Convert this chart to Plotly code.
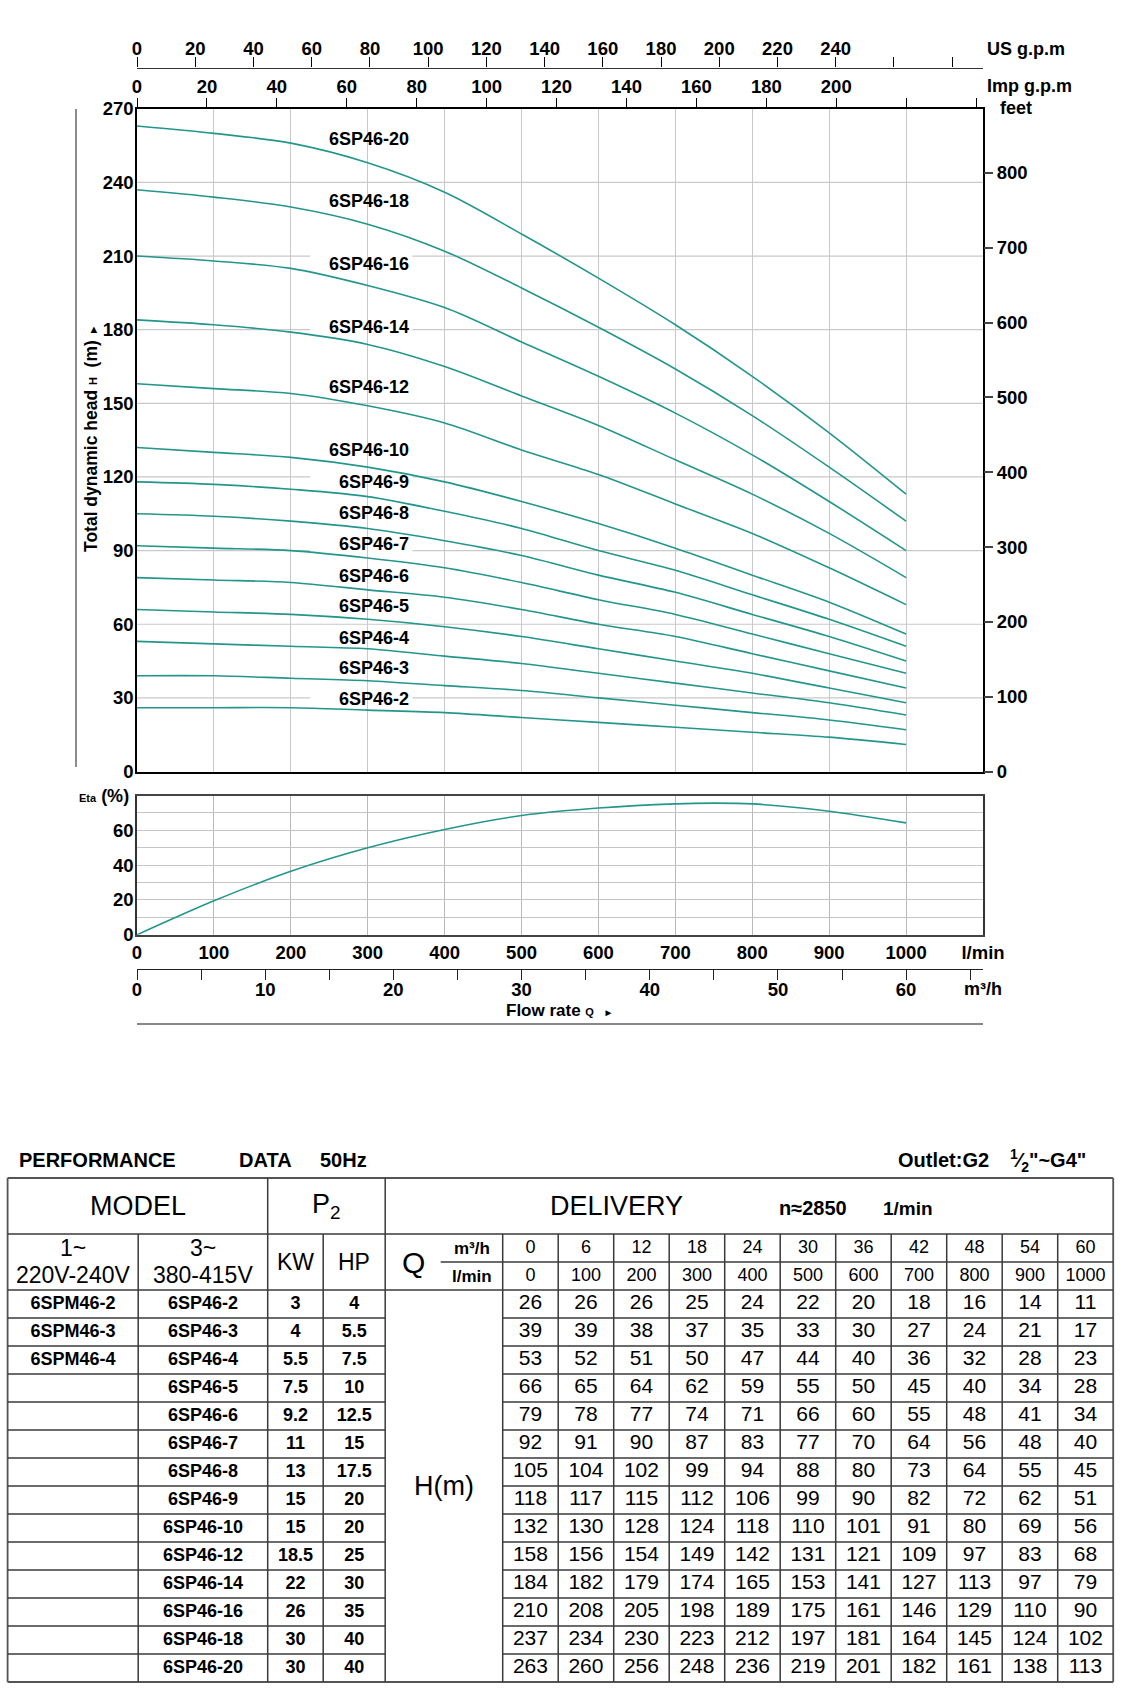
import plotly.graph_objects as go

# ---------------- data ----------------
flow_lmin = [0, 100, 200, 300, 400, 500, 600, 700, 800, 900, 1000]
flow_m3h = [0, 6, 12, 18, 24, 30, 36, 42, 48, 54, 60]

models_1ph = ["6SPM46-2", "6SPM46-3", "6SPM46-4", "", "", "", "", "", "", "", "", "", "", ""]
models_3ph = ["6SP46-2", "6SP46-3", "6SP46-4", "6SP46-5", "6SP46-6", "6SP46-7", "6SP46-8",
              "6SP46-9", "6SP46-10", "6SP46-12", "6SP46-14", "6SP46-16", "6SP46-18", "6SP46-20"]
power_kw = [3, 4, 5.5, 7.5, 9.2, 11, 13, 15, 15, 18.5, 22, 26, 30, 30]
power_hp = [4, 5.5, 7.5, 10, 12.5, 15, 17.5, 20, 20, 25, 30, 35, 40, 40]

head_6sp46_2 = [26, 26, 26, 25, 24, 22, 20, 18, 16, 14, 11]
head_6sp46_3 = [39, 39, 38, 37, 35, 33, 30, 27, 24, 21, 17]
head_6sp46_4 = [53, 52, 51, 50, 47, 44, 40, 36, 32, 28, 23]
head_6sp46_5 = [66, 65, 64, 62, 59, 55, 50, 45, 40, 34, 28]
head_6sp46_6 = [79, 78, 77, 74, 71, 66, 60, 55, 48, 41, 34]
head_6sp46_7 = [92, 91, 90, 87, 83, 77, 70, 64, 56, 48, 40]
head_6sp46_8 = [105, 104, 102, 99, 94, 88, 80, 73, 64, 55, 45]
head_6sp46_9 = [118, 117, 115, 112, 106, 99, 90, 82, 72, 62, 51]
head_6sp46_10 = [132, 130, 128, 124, 118, 110, 101, 91, 80, 69, 56]
head_6sp46_12 = [158, 156, 154, 149, 142, 131, 121, 109, 97, 83, 68]
head_6sp46_14 = [184, 182, 179, 174, 165, 153, 141, 127, 113, 97, 79]
head_6sp46_16 = [210, 208, 205, 198, 189, 175, 161, 146, 129, 110, 90]
head_6sp46_18 = [237, 234, 230, 223, 212, 197, 181, 164, 145, 124, 102]
head_6sp46_20 = [263, 260, 256, 248, 236, 219, 201, 182, 161, 138, 113]
head_table = [head_6sp46_2, head_6sp46_3, head_6sp46_4, head_6sp46_5, head_6sp46_6,
              head_6sp46_7, head_6sp46_8, head_6sp46_9, head_6sp46_10, head_6sp46_12,
              head_6sp46_14, head_6sp46_16, head_6sp46_18, head_6sp46_20]

eta_flow_lmin = [0, 100, 200, 300, 400, 500, 600, 700, 750, 800, 900, 1000]
eta_percent = [0, 19.5, 36.5, 50, 60.5, 68.5, 72.8, 75.2, 75.6, 75.2, 71, 64.3]

# curve label anchor heights (m) for each model, same order as models_3ph
label_head = [29.7, 42.1, 54.5, 67.4, 79.8, 92.7, 105.5, 117.9, 130.8, 156.5, 180.9, 206.6, 232.3, 257.6]

head_ticks = [0, 30, 60, 90, 120, 150, 180, 210, 240, 270]
feet_ticks = [0, 100, 200, 300, 400, 500, 600, 700, 800]
us_gpm_ticks = [0, 20, 40, 60, 80, 100, 120, 140, 160, 180, 200, 220, 240, 260, 280]
us_gpm_labels = ["0", "20", "40", "60", "80", "100", "120", "140", "160", "180", "200", "220", "240", "", ""]
imp_gpm_ticks = [0, 20, 40, 60, 80, 100, 120, 140, 160, 180, 200, 220, 240]
imp_gpm_labels = ["0", "20", "40", "60", "80", "100", "120", "140", "160", "180", "200", "", ""]
lmin_ticks = [0, 100, 200, 300, 400, 500, 600, 700, 800, 900, 1000, 1100]
lmin_labels = ["0", "100", "200", "300", "400", "500", "600", "700", "800", "900", "1000", "l/min"]
eta_ticks = [0, 10, 20, 30, 40, 50, 60, 70, 80]
eta_labels = ["0", "", "20", "", "40", "", "60", "", ""]
m3h_ticks = [0, 5, 10, 15, 20, 25, 30, 35, 40, 45, 50, 55, 60, 65]
m3h_labels = ["0", "", "10", "", "20", "", "30", "", "40", "", "50", "", "60", ""]

M_TO_FT = 3.28084
L_PER_USGAL = 3.78541
L_PER_IMPGAL = 4.54609
LMIN_PER_M3H = 1000 / 60
Q_MAX_LMIN = 1100

# ---------------- style / layout helpers ----------------
W, H = 1123, 1706
FONT = "Liberation Sans, Arial, sans-serif"
TEAL = "#23968b"
GRID = "#c9c9c9"


def fx(px):
    return px / W


def fy(py):
    return 1 - py / H


MAIN_X = [fx(137), fx(983)]
MAIN_Y = [fy(771.5), fy(108.8)]
ETA_Y = [fy(934.8), fy(795.5)]

bold = dict(family=FONT, size=18, color="black", weight="bold")
tickbold = dict(family=FONT, size=18.5, color="black", weight="bold")

fig = go.Figure()

# head curves
for name, heads in zip(models_3ph, head_table):
    fig.add_trace(go.Scatter(x=flow_lmin, y=heads, mode="lines", name=name,
                             line=dict(color=TEAL, width=1.6, shape="spline", smoothing=0.9),
                             xaxis="x", yaxis="y", hoverinfo="skip"))

# same data on secondary unit axes (invisible; keeps axes alive)
fig.add_trace(go.Scatter(x=flow_lmin, y=[h * M_TO_FT for h in head_6sp46_20], mode="lines",
                         line=dict(width=0, color="rgba(0,0,0,0)"), xaxis="x", yaxis="y2", hoverinfo="skip"))
fig.add_trace(go.Scatter(x=[q / L_PER_USGAL for q in flow_lmin], y=head_6sp46_20, mode="lines",
                         line=dict(width=0, color="rgba(0,0,0,0)"), xaxis="x3", yaxis="y", hoverinfo="skip"))
fig.add_trace(go.Scatter(x=[q / L_PER_IMPGAL for q in flow_lmin], y=head_6sp46_20, mode="lines",
                         line=dict(width=0, color="rgba(0,0,0,0)"), xaxis="x4", yaxis="y", hoverinfo="skip"))

# efficiency
fig.add_trace(go.Scatter(x=eta_flow_lmin, y=eta_percent, mode="lines",
                         line=dict(color=TEAL, width=1.6, shape="spline", smoothing=0.8),
                         xaxis="x5", yaxis="y5", hoverinfo="skip"))
fig.add_trace(go.Scatter(x=[q / LMIN_PER_M3H for q in eta_flow_lmin], y=eta_percent, mode="lines",
                         line=dict(width=0, color="rgba(0,0,0,0)"), xaxis="x6", yaxis="y5", hoverinfo="skip"))

shapes = []
annotations = []

# horizontal grid lines of head chart (interrupted behind curve labels)
GAP = (225, 358)
for h in head_ticks[1:-1]:
    near_label = any(abs(lh - h) < 4 for lh in label_head)
    segs = [(0, GAP[0]), (GAP[1], Q_MAX_LMIN)] if near_label else [(0, Q_MAX_LMIN)]
    for a, b in segs:
        shapes.append(dict(type="line", xref="x", yref="y", x0=a, x1=b, y0=h, y1=h,
                           line=dict(color=GRID, width=1.2), layer="below"))

# curve labels
for name, ly in zip(models_3ph, label_head):
    annotations.append(dict(x=356, y=ly, xref="x", yref="y", text=name, showarrow=False,
                            xanchor="right", yanchor="middle",
                            font=dict(family=FONT, size=18, color="black", weight="bold")))


def pann(x, y, text, xanchor="center", font=bold, **kw):
    annotations.append(dict(x=fx(x), y=fy(y), xref="paper", yref="paper", text=text, showarrow=False,
                            xanchor=xanchor, yanchor="middle", font=font, **kw))


# axis titles / unit labels
pann(91, 438, 'Total dynamic head <span style="font-size:11px">H</span>  (m) <span style="font-size:11px">►</span>',
     font=dict(family=FONT, size=17.5, color="black", weight="bold"), textangle=-90)
pann(985, 49, "US g.p.m", "left")
pann(985, 86, "Imp g.p.m", "left")
pann(998, 108, "feet", "left")
pann(77, 796, '<span style="font-size:11px">Eta</span> (%)', "left")
pann(983, 989, "m³/h", "center")
pann(559, 1010, 'Flow rate <span style="font-size:11px">Q</span>  <span style="font-size:10px">►</span>',
     font=dict(family=FONT, size=17, color="black", weight="bold"))

# decorative lines
shapes.append(dict(type="line", xref="paper", yref="paper", x0=fx(76), x1=fx(76), y0=fy(767), y1=fy(109),
                   line=dict(color="#707070", width=1.6)))
shapes.append(dict(type="line", xref="paper", yref="paper", x0=fx(137), x1=fx(983), y0=fy(1024), y1=fy(1024),
                   line=dict(color="#606060", width=1.6)))

# ---------------- table ----------------
tbl_x = [7.6, 138.2, 267.7, 323.2, 385.2, 502.7]
num_w = 55.5
num_x = [tbl_x[-1] + num_w * k for k in range(len(flow_m3h) + 1)]
t_top, t_r1, t_rs, t_r2, row_h = 1178, 1234, 1262, 1290, 28
n_rows = len(models_3ph)
t_bot = t_r2 + row_h * n_rows
t_right = num_x[-1]
TL = dict(color="#3a3a3a", width=1.5)


def tline(x0, y0, x1, y1, line=TL):
    shapes.append(dict(type="line", xref="x7", yref="y7", x0=x0, x1=x1, y0=y0, y1=y1, line=line))


tline(tbl_x[0], t_top, t_right, t_top, dict(color="#555", width=1.8))
tline(tbl_x[0], t_bot, t_right, t_bot, dict(color="#555", width=1.8))
tline(tbl_x[0], t_top, tbl_x[0], t_bot, dict(color="#555", width=1.8))
tline(t_right, t_top, t_right, t_bot, dict(color="#555", width=1.8))
tline(tbl_x[0], t_r1, t_right, t_r1)
tline(tbl_x[0], t_r2, t_right, t_r2)
tline(440.7, t_rs, t_right, t_rs)
for i in range(1, n_rows):
    y = t_r2 + row_h * i
    tline(tbl_x[0], y, tbl_x[4], y)
    tline(tbl_x[5], y, t_right, y)
tline(tbl_x[1], t_r1, tbl_x[1], t_bot)
tline(tbl_x[2], t_top, tbl_x[2], t_bot)
tline(tbl_x[3], t_r1, tbl_x[3], t_bot)
tline(tbl_x[4], t_top, tbl_x[4], t_bot)
for xv in num_x[:-1]:
    tline(xv, t_r1, xv, t_bot)


def cx(a, b):
    return (a + b) / 2


row_y = [t_r2 + row_h * (i + 0.5) for i in range(n_rows)]
num_cx = [cx(num_x[k], num_x[k + 1]) for k in range(len(flow_m3h))]


def fmt(v):
    return f"{v:g}"


# model names, power
fig.add_trace(go.Scatter(
    x=[cx(tbl_x[0], tbl_x[1])] * n_rows + [cx(tbl_x[1], tbl_x[2])] * n_rows
      + [cx(tbl_x[2], tbl_x[3])] * n_rows + [cx(tbl_x[3], tbl_x[4])] * n_rows,
    y=row_y * 4,
    text=models_1ph + models_3ph + [fmt(v) for v in power_kw] + [fmt(v) for v in power_hp],
    mode="text", textposition="middle center",
    textfont=dict(family=FONT, size=18, color="black", weight="bold"),
    xaxis="x7", yaxis="y7", hoverinfo="skip"))

# head values
hx, hy, ht = [], [], []
for i, heads in enumerate(head_table):
    for k, v in enumerate(heads):
        hx.append(num_cx[k])
        hy.append(row_y[i])
        ht.append(str(v))
fig.add_trace(go.Scatter(x=hx, y=hy, text=ht, mode="text", textposition="middle center",
                         textfont=dict(family=FONT, size=21, color="black"),
                         xaxis="x7", yaxis="y7", hoverinfo="skip"))

# flow header values
fig.add_trace(go.Scatter(x=num_cx * 2,
                         y=[cx(t_r1, t_rs)] * len(flow_m3h) + [cx(t_rs, t_r2)] * len(flow_lmin),
                         text=[str(v) for v in flow_m3h] + [str(v) for v in flow_lmin],
                         mode="text", textposition="middle center",
                         textfont=dict(family=FONT, size=18, color="black"),
                         xaxis="x7", yaxis="y7", hoverinfo="skip"))


def tann(x, y, text, size, weight="normal", xanchor="center"):
    annotations.append(dict(x=x, y=y, xref="x7", yref="y7", text=text, showarrow=False,
                            xanchor=xanchor, yanchor="middle",
                            font=dict(family=FONT, size=size, color="black", weight=weight)))


tann(17, 1160, "PERFORMANCE", 20, "bold", "left")
tann(237, 1160, "DATA", 20, "bold", "left")
tann(318, 1160, "50Hz", 20, "bold", "left")
tann(896, 1160, "Outlet:G2", 20, "bold", "left")
tann(1008, 1160, '<sup>1</sup>⁄<sub>2</sub>"~G4"', 20, "bold", "left")
tann(cx(tbl_x[0], tbl_x[2]), cx(t_top, t_r1), "MODEL", 27)
tann(cx(tbl_x[2], tbl_x[4]), cx(t_top, t_r1), "P<sub>2</sub>", 27)
tann(616, cx(t_top, t_r1), "DELIVERY", 27)
tann(813, cx(t_top, t_r1) + 2, "n≈2850", 20, "bold")
tann(908, cx(t_top, t_r1) + 2, "1/min", 19, "bold")
tann(cx(tbl_x[0], tbl_x[1]), 1248, "1~", 23)
tann(cx(tbl_x[0], tbl_x[1]), 1275, "220V-240V", 23)
tann(cx(tbl_x[1], tbl_x[2]), 1248, "3~", 23)
tann(cx(tbl_x[1], tbl_x[2]), 1275, "380-415V", 23)
tann(cx(tbl_x[2], tbl_x[3]), cx(t_r1, t_r2), "KW", 23)
tann(cx(tbl_x[3], tbl_x[4]), cx(t_r1, t_r2), "HP", 23)
tann(413.5, cx(t_r1, t_r2), "Q", 30)
tann(471.5, cx(t_r1, t_rs), "m³/h", 17, "bold")
tann(471.5, cx(t_rs, t_r2), "l/min", 17, "bold")
tann(cx(tbl_x[4], tbl_x[5]), cx(t_r2, t_bot), "H(m)", 27)

# ---------------- layout ----------------
axis_common = dict(zeroline=False, fixedrange=True, automargin=False)
fig.update_layout(
    template="none",
    width=W, height=H, margin=dict(l=0, r=0, t=0, b=0, pad=0, autoexpand=False),
    paper_bgcolor="white", plot_bgcolor="white", showlegend=False,
    font=dict(family=FONT, color="black"),
    xaxis=dict(domain=MAIN_X, range=[0, Q_MAX_LMIN], anchor="y", tickvals=flow_lmin,
               showticklabels=False, ticks="", showgrid=True, gridcolor=GRID, gridwidth=1.2,
               showline=True, linecolor="black", linewidth=1.6, mirror=True, **axis_common),
    yaxis=dict(domain=MAIN_Y, range=[0, 270], anchor="x", tickvals=head_ticks, showgrid=False,
               ticks="", showline=True, linecolor="black", linewidth=1.6, mirror=True,
               tickfont=tickbold, ticklabelstandoff=-2, **axis_common),
    yaxis2=dict(overlaying="y", anchor="x", side="right", range=[0, 270 * M_TO_FT],
                tickvals=feet_ticks, showgrid=False, ticks="outside", ticklen=9, tickwidth=1.5,
                tickcolor="#444", tickfont=tickbold, showline=False, **axis_common),
    xaxis3=dict(overlaying="x", anchor="free", position=fy(67.5), side="top",
                range=[0, Q_MAX_LMIN / L_PER_USGAL], tickvals=us_gpm_ticks, ticktext=us_gpm_labels,
                ticks="outside", ticklen=10, tickwidth=1.3, tickcolor="black", showline=True,
                linecolor="#333", linewidth=1.4, showgrid=False, tickfont=tickbold,
                ticklabelstandoff=-5, **axis_common),
    xaxis4=dict(overlaying="x", anchor="y", side="top",
                range=[0, Q_MAX_LMIN / L_PER_IMPGAL], tickvals=imp_gpm_ticks, ticktext=imp_gpm_labels,
                ticks="outside", ticklen=10, tickwidth=1.3, tickcolor="black", showline=False,
                showgrid=False, tickfont=tickbold, ticklabelstandoff=-3, **axis_common),
    xaxis5=dict(domain=MAIN_X, range=[0, Q_MAX_LMIN], anchor="y5", tickvals=lmin_ticks,
                ticktext=lmin_labels, ticks="",
                showgrid=True, gridcolor="#b9b9b9", gridwidth=1.2, showline=True, linecolor="#444",
                linewidth=1.6, mirror=True, tickfont=tickbold, **axis_common),
    yaxis5=dict(domain=ETA_Y, range=[0, 80], anchor="x5", tickvals=eta_ticks, ticktext=eta_labels,
                ticks="", showgrid=True, gridcolor="#c4c4c4", gridwidth=1.2, showline=True,
                linecolor="#333", linewidth=1.6, mirror=True, tickfont=tickbold,
                ticklabelstandoff=-2, **axis_common),
    xaxis6=dict(overlaying="x5", anchor="free", position=fy(968.5), side="bottom",
                range=[0, Q_MAX_LMIN / LMIN_PER_M3H], tickvals=m3h_ticks, ticktext=m3h_labels,
                ticks="outside", ticklen=10, tickwidth=1.3, tickcolor="#222", showline=True,
                linecolor="#222", linewidth=1.4, showgrid=False, tickfont=tickbold,
                ticklabelstandoff=-6, **axis_common),
    xaxis7=dict(domain=[0, 1], range=[0, W], anchor="y7", visible=False, **axis_common),
    yaxis7=dict(domain=[0, fy(1140)], range=[H, 1140], anchor="x7", visible=False, **axis_common),
    shapes=shapes,
    annotations=annotations,
)

fig.write_html("out.html", config={"displayModeBar": False},
               post_script="document.body.style.margin='0';document.body.style.overflow='hidden';")
